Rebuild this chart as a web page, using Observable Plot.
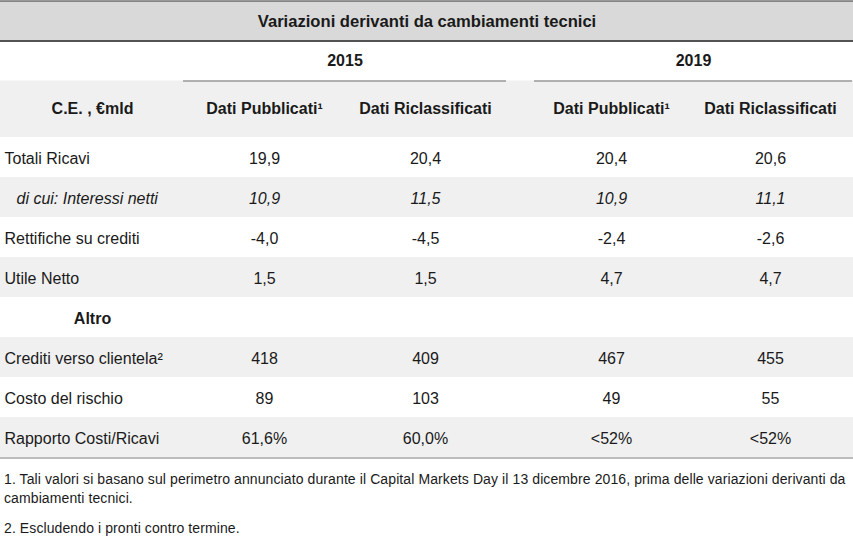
<!DOCTYPE html>
<html>
<head>
<meta charset="utf-8">
<script src="https://cdn.jsdelivr.net/npm/d3@7"></script>
<script src="https://cdn.jsdelivr.net/npm/@observablehq/plot@0.6"></script>
<style>
  html, body { margin: 0; padding: 0; background: #fff; }
  #chart { width: 853px; }
  .notes { font-family: "Liberation Sans", sans-serif; font-size: 14px; letter-spacing: 0.1px; color: #1a1a1a; padding: 0 0 0 4px; width: 849px; }
  .notes p { margin: 0; line-height: 19px; }
</style>
</head>
<body>
<div id="chart"></div>
<div class="notes" id="notes"></div>
<script>
// ---------- data ----------
const title = "Variazioni derivanti da cambiamenti tecnici";
const years = ["2015", "2019"];
const cornerLabel = "C.E. , €mld";
const columnHeaders = ["Dati Pubblicati¹", "Dati Riclassificati", "Dati Pubblicati¹", "Dati Riclassificati"];
const rowLabels = [
  "Totali Ricavi",
  "di cui: Interessi netti",
  "Rettifiche su crediti",
  "Utile Netto",
  "Altro",
  "Crediti verso clientela²",
  "Costo del rischio",
  "Rapporto Costi/Ricavi"
];
const rowKinds = ["normal", "italic", "normal", "normal", "section", "normal", "normal", "normal"];
const pub2015 = ["19,9", "10,9", "-4,0", "1,5", "", "418", "89", "61,6%"];
const ric2015 = ["20,4", "11,5", "-4,5", "1,5", "", "409", "103", "60,0%"];
const pub2019 = ["20,4", "10,9", "-2,4", "4,7", "", "467", "49", "<52%"];
const ric2019 = ["20,6", "11,1", "-2,6", "4,7", "", "455", "55", "<52%"];
const footnotes = [
  "1. Tali valori si basano sul perimetro annunciato durante il Capital Markets Day il 13 dicembre 2016, prima delle variazioni derivanti da cambiamenti tecnici.",
  "2. Escludendo i pronti contro termine."
];

// ---------- layout ----------
const W = 853, H = 460;
const FONT = "Liberation Sans, sans-serif";
const colCenters = [264, 425, 611, 770];       // value column centres
const groupSpans = [[183, 506], [534, 852]];     // year group spans
const labelColCenter = 92;
const titleBand = [1, 40];
const yearRowMid = 60;
const headerBand = [80.5, 137];
const bodyTop = 137, rowH = 40;

const seriesCols = [pub2015, ric2015, pub2019, ric2019];
const rows = rowLabels.map((label, i) => ({
  i, label, kind: rowKinds[i],
  y1: bodyTop + rowH * i, y2: bodyTop + rowH * (i + 1), ym: bodyTop + rowH * i + rowH / 2 + 1
}));
const cells = [];
rows.forEach(r => seriesCols.forEach((col, c) => {
  if (col[r.i] !== "") cells.push({ row: r, c, text: col[r.i], ym: r.ym, kind: r.kind });
}));
const yearData = years.map((y, k) => ({ y, k }));
const headerData = columnHeaders.map((h, c) => ({ h, c }));

const chart = Plot.plot({
  width: W, height: H,
  margin: 0,
  x: { type: "linear", domain: [0, W], range: [0, W], axis: null },
  y: { type: "linear", domain: [0, H], range: [0, H], axis: null },
  style: { fontFamily: FONT, color: "#1a1a1a", background: "#fff" },
  marks: [
    // title band
    Plot.rect([title], { x1: 0, x2: W, y1: titleBand[0], y2: titleBand[1], fill: "#d9d9d9" }),
    Plot.ruleY([0.5], { stroke: "#333", strokeWidth: 1 }),
    Plot.ruleY([titleBand[1] + 0.5], { stroke: "#1a1a1a", strokeWidth: 1.6 }),
    Plot.text([title], { x: W / 2, y: (titleBand[0] + titleBand[1]) / 2 + 1, text: d => d, fontSize: 16.6, fontWeight: "bold", fill: "#1a1a1a" }),
    // header band
    Plot.rect([cornerLabel], { x1: 0, x2: W, y1: headerBand[0], y2: headerBand[1], fill: "#f0f0f0" }),
    // year labels and underlines
    Plot.text(yearData, { x: d => (groupSpans[d.k][0] + groupSpans[d.k][1]) / 2, y: yearRowMid, text: "y", fontSize: 16, fontWeight: "bold", fill: "#1a1a1a" }),
    Plot.ruleY(yearData, { y: headerBand[0], x1: d => groupSpans[d.k][0], x2: d => groupSpans[d.k][1], stroke: "#9a9a9a", strokeWidth: 1.3 }),
    // header texts
    Plot.text([cornerLabel], { x: labelColCenter, y: (headerBand[0] + headerBand[1]) / 2, text: d => d, fontSize: 16, fontWeight: "bold", fill: "#1a1a1a" }),
    Plot.text(headerData, { x: d => colCenters[d.c], y: (headerBand[0] + headerBand[1]) / 2, text: "h", fontSize: 16, fontWeight: "bold", fill: "#1a1a1a" }),
    // body bands
    Plot.rect(rows.filter(r => r.i % 2 === 1), { x1: 0, x2: W, y1: "y1", y2: "y2", fill: "#f0f0f0" }),
    Plot.ruleY([bodyTop + rowH * rowLabels.length + 0.5], { stroke: "#a6a6a6", strokeWidth: 1.3 }),
    // row labels
    Plot.text(rows.filter(r => r.kind === "normal"), { x: 4, y: "ym", text: "label", textAnchor: "start", fontSize: 16, fill: "#1a1a1a" }),
    Plot.text(rows.filter(r => r.kind === "italic"), { x: 16, y: "ym", text: "label", textAnchor: "start", fontSize: 16, fontStyle: "italic", fill: "#1a1a1a" }),
    Plot.text(rows.filter(r => r.kind === "section"), { x: labelColCenter, y: "ym", text: "label", fontSize: 16, fontWeight: "bold", fill: "#1a1a1a" }),
    // values
    Plot.text(cells.filter(d => d.kind !== "italic"), { x: d => colCenters[d.c], y: "ym", text: "text", fontSize: 16, fill: "#1a1a1a" }),
    Plot.text(cells.filter(d => d.kind === "italic"), { x: d => colCenters[d.c], y: "ym", text: "text", fontSize: 16, fontStyle: "italic", fill: "#1a1a1a" })
  ]
});
document.getElementById("chart").appendChild(chart);
const notes = document.getElementById("notes");
notes.style.paddingTop = "10px";
footnotes.forEach((t, i) => {
  const p = document.createElement("p");
  p.textContent = t;
  if (i > 0) p.style.marginTop = "11px";
  notes.appendChild(p);
});
</script>
</body>
</html>
